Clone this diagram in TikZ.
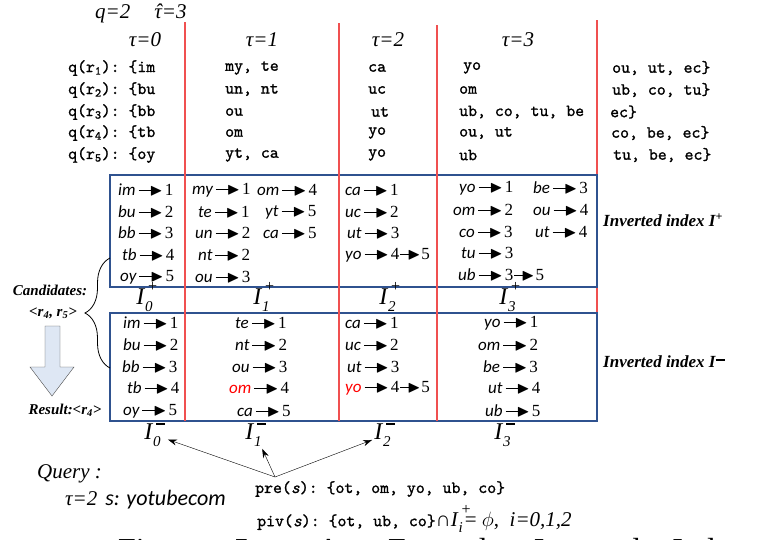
\documentclass[tikz,border=0pt]{standalone}
\usepackage{fontspec}
\usepackage{amssymb}
\setmainfont{Liberation Serif}
\setmonofont[FakeBold=1.2, ItalicFont=lmmono10-italic.otf]{lmmono10-regular.otf}
\newfontfamily\keyfont{Carlito}
\usetikzlibrary{arrows.meta, decorations.pathreplacing}
\definecolor{sepred}{RGB}{240,80,80}
\definecolor{idxblue}{RGB}{47,82,143}
\definecolor{downfill}{RGB}{222,231,244}
\newcommand\ky[1]{{\keyfont\itshape #1}}
\newcommand\ar{\kern3pt\rule[4.2pt]{13pt}{1.4pt}\kern-2pt$\blacktriangleright$\kern2pt}
\newcommand\arb{\kern1pt\rule[4.2pt]{9pt}{1.4pt}\kern-2pt$\blacktriangleright$\kern1pt}
\newcommand\Ix[2]{\textit{I}\rlap{\kern3pt\raisebox{0.55em}{\fontsize{16}{16}\selectfont #2}}\raisebox{-0.3em}{\fontsize{15}{15}\selectfont\itshape #1}\kern5pt}
\newcommand\mn{\rule[1pt]{9pt}{1.8pt}}
\newcommand\tauhat{\ooalign{τ\cr\hidewidth\kern1pt ˆ\hidewidth\cr}}
\tikzset{
    sep/.style={draw=sepred, line width=1.6pt},
    idx/.style={draw=idxblue, line width=1.1pt},
    mono/.style={anchor=west, font=\fontsize{17}{17}\ttfamily},
    tau/.style={font=\fontsize{21}{21}\selectfont\itshape},
    ent/.style={anchor=west, font=\fontsize{17}{17}\selectfont},
    lbl/.style={font=\fontsize{15}{15}\selectfont\bfseries\itshape},
    ilbl/.style={font=\fontsize{24}{24}\selectfont, inner sep=2pt},
}
\begin{document}
\begin{tikzpicture}[x=1pt, y=-1pt]
    \tikzstyle{every node}=[inner sep=0pt]
    \useasboundingbox (0,0) rectangle (759,539);
    \clip (0,0) rectangle (759,539);
    % column separators and index boxes
    \draw[sep] (597,20) -- (597,313);
    \draw[idx] (110,175) rectangle (597,287);
    \draw[idx] (110,313) rectangle (597,421);
    \draw[sep] (185,22) -- (185,421);
    \draw[sep] (339,23) -- (339,421);
    \draw[sep] (437,25) -- (437,421);
    % header
    \node[tau, anchor=west] (hq) at (95,14) {q=2\hspace{24pt}\tauhat=3};
    \node[tau] (t0) at (145,40) {τ=0};
    \node[tau] (t1) at (262,40) {τ=1};
    \node[tau] (t2) at (388,40) {τ=2};
    \node[tau] (t3) at (518,40) {τ=3};
    % q-gram sets
    \node[mono] (q1) at (68,68) {q(r\textsubscript{1}): \{im};
    \node[mono] (q2) at (68,90) {q(r\textsubscript{2}): \{bu};
    \node[mono] (q3) at (68,112) {q(r\textsubscript{3}): \{bb};
    \node[mono] (q4) at (68,133) {q(r\textsubscript{4}): \{tb};
    \node[mono] (q5) at (68,155) {q(r\textsubscript{5}): \{oy};
    \node[mono] (s11) at (225,68) {my, te};
    \node[mono] (s12) at (225,90) {un, nt};
    \node[mono] (s13) at (225,112) {ou};
    \node[mono] (s14) at (225,133) {om};
    \node[mono] (s15) at (225,155) {yt, ca};
    \node[mono] (s21) at (368,68) {ca};
    \node[mono] (s22) at (368,90) {uc};
    \node[mono] (s23) at (371,112) {ut};
    \node[mono] (s24) at (368,133) {yo};
    \node[mono] (s25) at (368,155) {yo};
    \node[mono] (s31) at (463,68) {yo};
    \node[mono] (s32) at (459,90) {om};
    \node[mono] (s33) at (459,112) {ub, co, tu, be};
    \node[mono] (s34) at (459,133) {ou, ut};
    \node[mono] (s35) at (459,155) {ub};
    \node[mono] (s41) at (612,68) {ou, ut, ec\}};
    \node[mono] (s42) at (612,90) {ub, co, tu\}};
    \node[mono] (s43) at (610,112) {ec\}};
    \node[mono] (s44) at (611,133) {co, be, ec\}};
    \node[mono] (s45) at (613,155) {tu, be, ec\}};
    % inverted index I+
    \node[ent] (p01) at (118,190) {\ky{im}\ar 1};
    \node[ent] (p02) at (118,212) {\ky{bu}\ar 2};
    \node[ent] (p03) at (118,233) {\ky{bb}\ar 3};
    \node[ent] (p04) at (122,255) {\ky{tb}\ar 4};
    \node[ent] (p05) at (120,277) {\ky{oy}\ar 5};
    \node[ent] (p11) at (192,190) {\ky{my}\ar 1};
    \node[ent] (p12) at (198,212) {\ky{te}\ar 1};
    \node[ent] (p13) at (195,233) {\ky{un}\ar 2};
    \node[ent] (p14) at (198,255) {\ky{nt}\ar 2};
    \node[ent] (p15) at (195,277) {\ky{ou}\ar 3};
    \node[ent] (p16) at (257,190) {\ky{om}\ar 4};
    \node[ent] (p17) at (265,212) {\ky{yt}\ar 5};
    \node[ent] (p18) at (263,233) {\ky{ca}\ar 5};
    \node[ent] (p21) at (345,190) {\ky{ca}\ar 1};
    \node[ent] (p22) at (345,212) {\ky{uc}\ar 2};
    \node[ent] (p23) at (347,233) {\ky{ut}\ar 3};
    \node[ent] (p24) at (345,255) {\ky{yo}\ar 4\arb 5};
    \node[ent] (p31) at (459,188) {\ky{yo}\ar 1};
    \node[ent] (p32) at (453,210) {\ky{om}\ar 2};
    \node[ent] (p33) at (459,232) {\ky{co}\ar 3};
    \node[ent] (p34) at (461,253) {\ky{tu}\ar 3};
    \node[ent] (p35) at (458,275) {\ky{ub}\ar 3\arb 5};
    \node[ent] (p36) at (533,188) {\ky{be}\ar 3};
    \node[ent] (p37) at (533,210) {\ky{ou}\ar 4};
    \node[ent] (p38) at (535,232) {\ky{ut}\ar 4};
    \node[ilbl, inner sep=0pt] (lp0) at (147,297) {\Ix{0}{+}};
    \node[ilbl, inner sep=0pt] (lp1) at (264,297) {\Ix{1}{+}};
    \node[ilbl, inner sep=0pt] (lp2) at (390,297) {\Ix{2}{+}};
    \node[ilbl, inner sep=0pt] (lp3) at (510,297) {\Ix{3}{+}};
    \node[lbl, anchor=west, font=\fontsize{17}{17}\selectfont\bfseries\itshape] (ip) at (603,220) {Inverted index I\textsuperscript{+}};
    % inverted index I-
    \node[ent] (m01) at (123,323) {\ky{im}\ar 1};
    \node[ent] (m02) at (123,345) {\ky{bu}\ar 2};
    \node[ent] (m03) at (122,367) {\ky{bb}\ar 3};
    \node[ent] (m04) at (127,388) {\ky{tb}\ar 4};
    \node[ent] (m05) at (123,411) {\ky{oy}\ar 5};
    \node[ent] (m11) at (235,323) {\ky{te}\ar 1};
    \node[ent] (m12) at (235,345) {\ky{nt}\ar 2};
    \node[ent] (m13) at (232,367) {\ky{ou}\ar 3};
    \node[ent] (m14) at (229,388) {\textcolor{red}{\ky{om}}\ar 4};
    \node[ent] (m15) at (237,411) {\ky{ca}\ar 5};
    \node[ent] (m21) at (345,323) {\ky{ca}\ar 1};
    \node[ent] (m22) at (345,345) {\ky{uc}\ar 2};
    \node[ent] (m23) at (347,367) {\ky{ut}\ar 3};
    \node[ent] (m24) at (345,388) {\textcolor{red}{\ky{yo}}\ar 4\arb 5};
    \node[ent] (m31) at (484,323) {\ky{yo}\ar 1};
    \node[ent] (m32) at (478,345) {\ky{om}\ar 2};
    \node[ent] (m33) at (483,367) {\ky{be}\ar 3};
    \node[ent] (m34) at (488,388) {\ky{ut}\ar 4};
    \node[ent] (m35) at (485,411) {\ky{ub}\ar 5};
    \node[ilbl] (lm0) at (155,435) {\Ix{0}{\mn}};
    \node[ilbl] (lm1) at (256,435) {\Ix{1}{\mn}};
    \node[ilbl] (lm2) at (385,435) {\Ix{2}{\mn}};
    \node[ilbl] (lm3) at (505,435) {\Ix{3}{\mn}};
    \node[lbl, anchor=west, font=\fontsize{17}{17}\selectfont\bfseries\itshape] (im) at (603,362) {Inverted index I\textsuperscript{\mn}};
    % candidates and result
    \node[lbl] (cand) at (50,290) {Candidates:};
    \node[lbl] (cr) at (53,313) {<r\textsubscript{4}, r\textsubscript{5}>};
    \draw[thick, decorate, decoration={brace, amplitude=25pt}] (110,368) -- (110,258);
    \draw[draw=black!70, fill=downfill] (45,326) -- (60,326) -- (60,367) -- (74,367) -- (52,396) -- (30,367) -- (45,367) -- cycle;
    \node[lbl] (res) at (65,410) {Result:<r\textsubscript{4}>};
    % query
    \node[tau, anchor=west] (qry) at (37,474) {Query :};
    \node[tau, anchor=west] (qs) at (65,500) {τ=2\hspace{8pt}{\keyfont\itshape\fontsize{22}{22}\selectfont s: yotubecom}};
    \node[mono] (pre) at (255,489) {pre({\itshape s}): \{ot, om, yo, ub, co\}};
    \node[mono] (piv) at (257,519) {piv({\itshape s}): \{ot, ub, co\}{\rmfamily\fontsize{21}{21}\selectfont ∩\Ix{i}{+}\kern-3pt= $\phi$,\enspace\itshape i=0,1,2}};
    \coordinate (src) at (275,477);
    \draw[-{Stealth[length=9pt, width=6pt]}] (src) -- (lm0);
    \draw[-{Stealth[length=9pt, width=6pt]}] (src) -- (lm1);
    \draw[-{Stealth[length=9pt, width=6pt]}] (src) -- (lm2);
    % caption, cut at the bottom
    \node[anchor=base west, font=\fontsize{32}{32}\selectfont] (cap) at (118,560) {\makebox[627pt][s]{Figure 5: An Example Inverted Index}};
\end{tikzpicture}
\end{document}
